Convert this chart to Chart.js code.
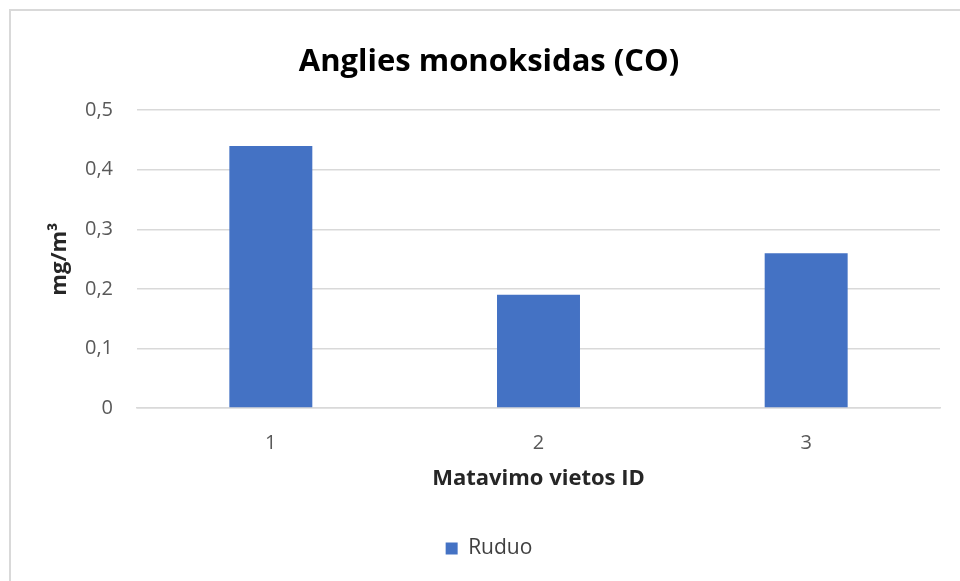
<!DOCTYPE html>
<html>
<head>
<meta charset="utf-8">
<script src="https://cdn.jsdelivr.net/npm/chart.js@4/dist/chart.umd.min.js"></script>
<style>
  html, body { margin: 0; padding: 0; background: #fff; overflow: hidden; }
  #frame { position: absolute; left: 9px; top: 9px; width: 1000px; height: 700px; border: 2px solid #d9d9d9; }
  #wrap { position: absolute; left: 0; top: 0; width: 960px; height: 581px; }
</style>
</head>
<body>
<div id="frame"></div>
<div id="wrap"><canvas id="chart" width="960" height="581"></canvas></div>
<script>
const categories = ['1', '2', '3'];
const seriesName = 'Ruduo';
const seriesValues = [0.44, 0.19, 0.26];
const yTicks = [0, 0.1, 0.2, 0.3, 0.4, 0.5];

const bodyFont = "'Open Sans', 'DejaVu Sans', sans-serif";

const ctx = document.getElementById('chart').getContext('2d');

new Chart(ctx, {
  type: 'bar',
  data: {
    labels: categories,
    datasets: [
      {
        label: seriesName,
        data: seriesValues,
        backgroundColor: '#4472c4',
        borderWidth: 0,
        barPercentage: 0.31,
        categoryPercentage: 1.0,
      },
    ],
  },
  options: {
    responsive: false,
    animation: false,
    layout: {
      padding: { left: 38, right: 20, top: 10, bottom: 12 }
    },
    plugins: {
      title: {
        display: true,
        text: 'Anglies monoksidas (CO)',
        color: '#000',
        font: { family: bodyFont, size: 31, weight: 'bold', lineHeight: 1.2 },
        padding: { top: 34, bottom: 29 }
      },
      legend: {
        position: 'bottom',
        labels: {
          color: '#404040',
          boxWidth: 12,
          boxHeight: 12,
          padding: 10,
          font: { family: bodyFont, size: 21 }
        }
      },
      tooltip: { enabled: false }
    },
    scales: {
      x: {
        grid: { display: false, drawTicks: false },
        border: { display: true, color: '#d9d9d9', width: 1.5 },
        ticks: {
          color: '#595959',
          padding: 23,
          font: { family: bodyFont, size: 20 }
        },
        title: {
          display: true,
          text: 'Matavimo vietos ID',
          color: '#262626',
          font: { family: bodyFont, size: 22, weight: 'bold', lineHeight: 1.2 },
          padding: { top: 0, bottom: 36 }
        },
        afterFit: function (scale) {
          scale.height = 120;
        }
      },
      y: {
        min: 0,
        max: 0.5,
        grid: { color: '#d9d9d9', lineWidth: 1.5, drawTicks: false },
        border: { display: false },
        afterBuildTicks: function (scale) {
          scale.ticks = yTicks.map(v => ({ value: v }));
        },
        ticks: {
          color: '#595959',
          padding: 24,
          font: { family: bodyFont, size: 20 },
          callback: function (value) {
            return value === 0 ? '0' : value.toFixed(1).replace('.', ',');
          }
        },
        title: {
          display: true,
          text: 'mg/m³',
          color: '#262626',
          font: { family: bodyFont, size: 22, weight: 'bold', lineHeight: 1.2 },
          padding: { top: 9, bottom: 0 }
        },
        afterFit: function (scale) {
          scale.width = 99;
        }
      }
    }
  }
});
</script>
</body>
</html>
